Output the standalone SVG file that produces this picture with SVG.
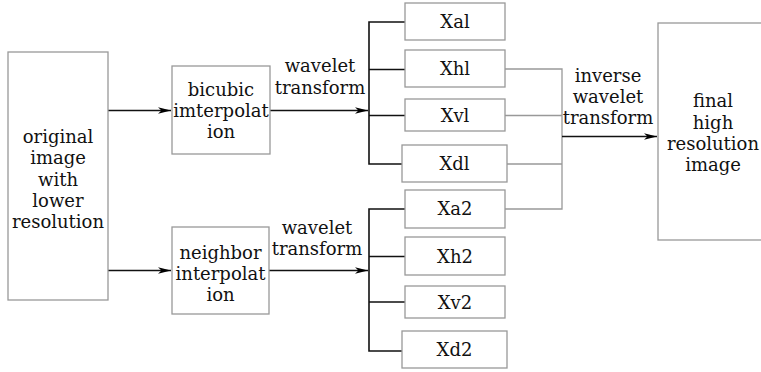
<svg xmlns="http://www.w3.org/2000/svg" width="761" height="372" viewBox="0 0 761 372">
<defs>
<marker id="ah" markerWidth="14" markerHeight="8" refX="13" refY="4" orient="auto" markerUnits="userSpaceOnUse">
<path d="M0,0.8 L13,4 L0,7.2 L3.5,4 z" fill="#000"/>
</marker>
<style>
.box{fill:#fff;stroke:#999;stroke-width:1.3}
.t{font-family:"DejaVu Serif","Liberation Serif",serif;font-size:18px;fill:#111;text-anchor:middle}
.k{stroke:#111;stroke-width:1.6;fill:none}
.g{stroke:#999;stroke-width:1.3;fill:none}
</style>
</defs>
<g id="connectors">
<line class="k" x1="108" y1="110.5" x2="171" y2="110.5" marker-end="url(#ah)"/>
<line class="k" x1="108" y1="270.5" x2="171" y2="270.5" marker-end="url(#ah)"/>
<line class="k" x1="270" y1="110.5" x2="368" y2="110.5" marker-end="url(#ah)"/>
<line class="k" x1="269" y1="270.5" x2="368" y2="270.5" marker-end="url(#ah)"/>
<path class="k" d="M405,22 H369 V164 H402 M369,69.5 H405 M369,115.5 H405"/>
<path class="k" d="M405,209 H369 V351 H402 M369,256.5 H405 M369,302 H405"/>
<path class="g" d="M505,69 H562 V209 H505 M505,115.5 H562 M507,164 H562"/>
<line class="k" x1="562" y1="136.5" x2="657" y2="136.5" marker-end="url(#ah)"/>
</g>
<g id="original">
<rect class="box" x="8" y="52" width="100" height="248"/>
<text class="t" x="58" y="143">original</text>
<text class="t" x="58" y="164.3">image</text>
<text class="t" x="58" y="185.6">with</text>
<text class="t" x="58" y="206.9">lower</text>
<text class="t" x="58" y="228.2">resolution</text>
</g>
<g id="bicubic">
<rect class="box" x="172" y="66" width="98" height="88"/>
<text class="t" x="221" y="95.5">bicubic</text>
<text class="t" x="221" y="116.6">imterpolat</text>
<text class="t" x="221" y="137.7">ion</text>
</g>
<g id="neighbor">
<rect class="box" x="172" y="227" width="97" height="87"/>
<text class="t" x="220.5" y="258.5">neighbor</text>
<text class="t" x="220.5" y="279.8">interpolat</text>
<text class="t" x="220.5" y="301">ion</text>
</g>
<g id="label-wt1">
<text class="t" x="320" y="72.3">wavelet</text>
<text class="t" x="320" y="93.5">transform</text>
</g>
<g id="label-wt2">
<text class="t" x="317" y="234">wavelet</text>
<text class="t" x="317" y="255.2">transform</text>
</g>
<g id="Xal"><rect class="box" x="405" y="3" width="100" height="37"/><text class="t" x="455" y="27.5">Xal</text></g>
<g id="Xhl"><rect class="box" x="405" y="50" width="100" height="37"/><text class="t" x="455" y="74.5">Xhl</text></g>
<g id="Xvl"><rect class="box" x="405" y="99" width="100" height="32"/><text class="t" x="455" y="121.5">Xvl</text></g>
<g id="Xdl"><rect class="box" x="402" y="145" width="105" height="37"/><text class="t" x="454.5" y="169.5">Xdl</text></g>
<g id="Xa2"><rect class="box" x="405" y="190" width="100" height="38"/><text class="t" x="455" y="215">Xa2</text></g>
<g id="Xh2"><rect class="box" x="405" y="237" width="100" height="38"/><text class="t" x="455" y="262.5">Xh2</text></g>
<g id="Xv2"><rect class="box" x="405" y="286" width="100" height="32"/><text class="t" x="455" y="308.5">Xv2</text></g>
<g id="Xd2"><rect class="box" x="402" y="331" width="105" height="37"/><text class="t" x="454.5" y="356">Xd2</text></g>
<g id="label-iwt">
<text class="t" x="608" y="81.7">inverse</text>
<text class="t" x="608" y="102.8">wavelet</text>
<text class="t" x="608" y="123.5">transform</text>
</g>
<g id="final">
<rect class="box" x="658" y="23" width="110" height="217"/>
<text class="t" x="713" y="107.3">final</text>
<text class="t" x="713" y="128.5">high</text>
<text class="t" x="713" y="149.8">resolution</text>
<text class="t" x="713" y="171">image</text>
</g>
</svg>
